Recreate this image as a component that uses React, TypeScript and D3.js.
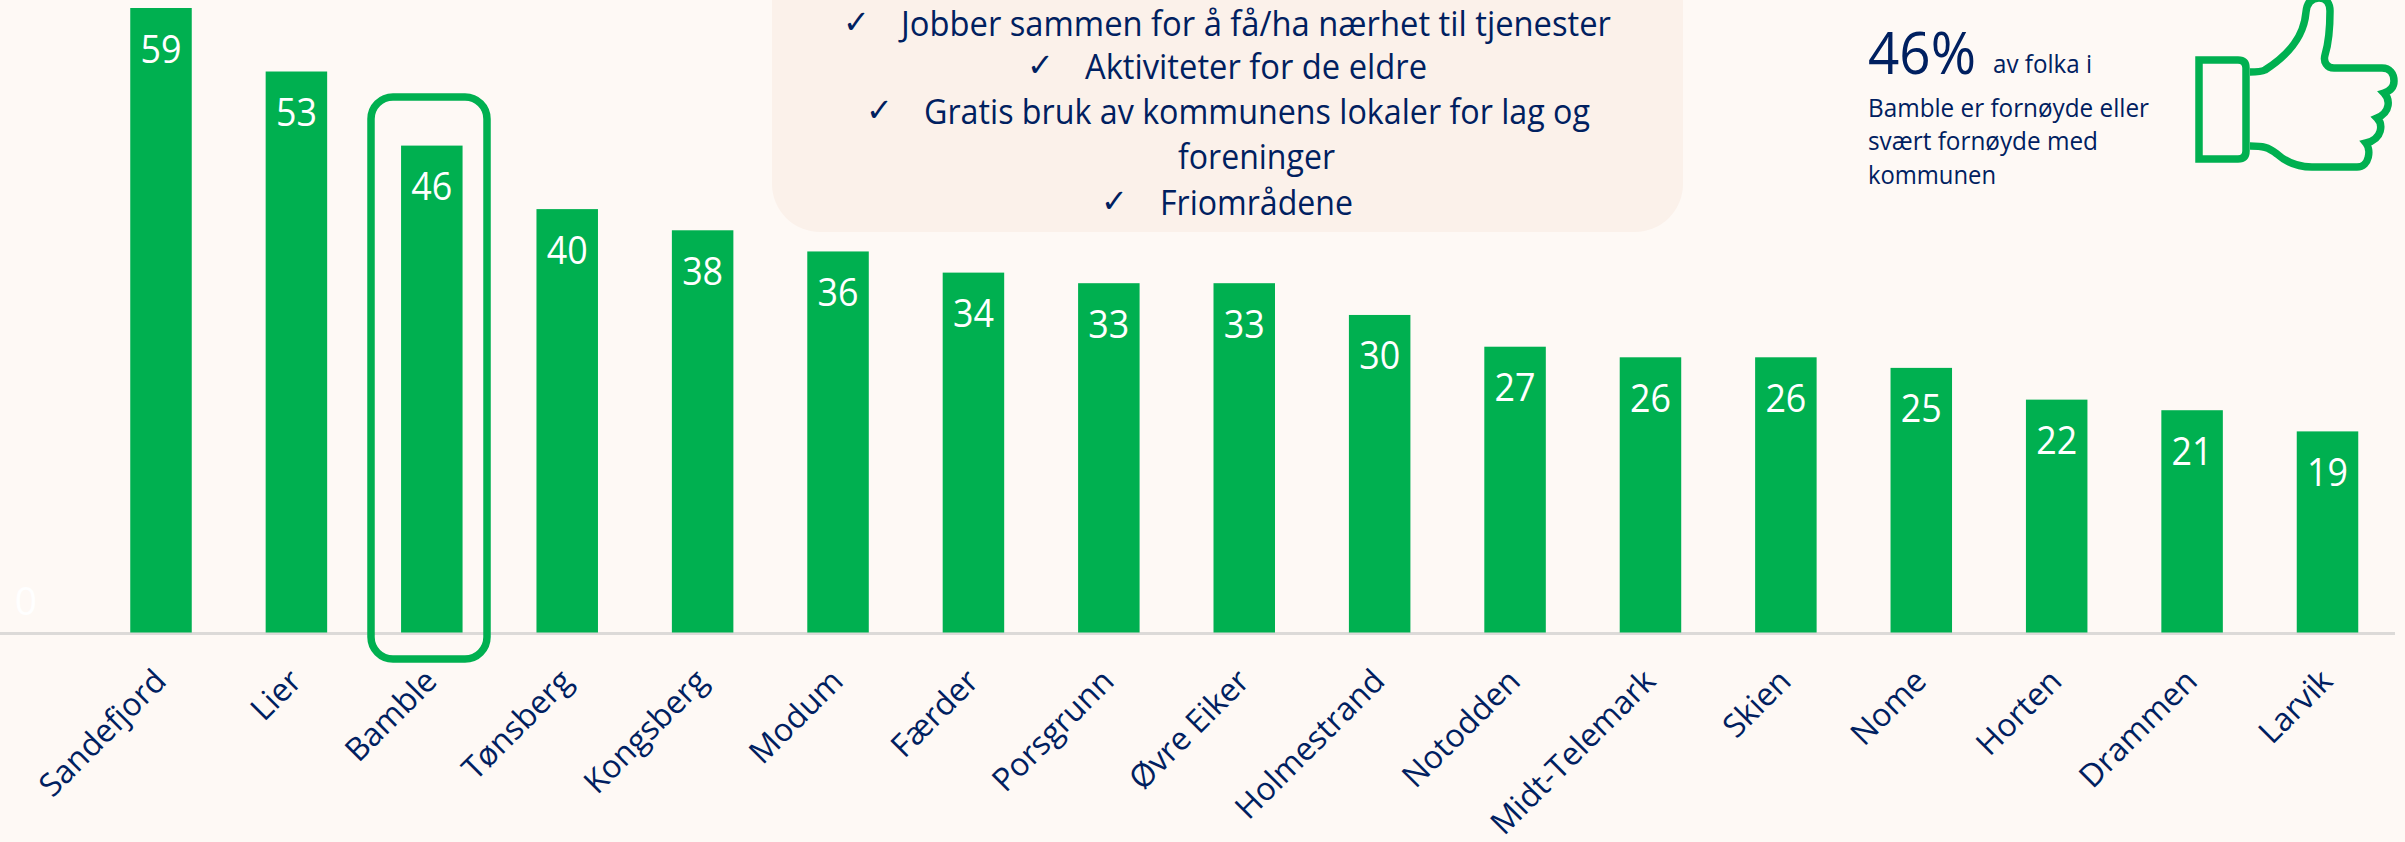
import React, { useEffect, useRef } from "react";
import * as d3 from "d3";

const categories = ["Sandefjord","Lier","Bamble","Tønsberg","Kongsberg","Modum","Færder","Porsgrunn","Øvre Eiker","Holmestrand","Notodden","Midt-Telemark","Skien","Nome","Horten","Drammen","Larvik"];
const values = [59,53,46,40,38,36,34,33,33,30,27,26,26,25,22,21,19];
const calloutLines = ["Jobber sammen for å få/ha nærhet til tjenester","Aktiviteter for de eldre","Gratis bruk av kommunens lokaler for lag og","foreninger","Friområdene"];
const calloutChecks = [true,true,true,false,true];
const calloutBaselines = [36,79,124,169,215];
const calloutStarts = [901,1085,924,1178,1160];
const calloutWidths = [710,342,666,157,193];
const calloutCheckX = [843,1027,866,0,1101];

const GREEN = "#00b050";
const NAVY = "#002060";
const BG = "#fef9f5";
const FONT = "'Open Sans', 'Noto Sans', sans-serif";
const BASE = 632.5;
const BAR_W = 61.5;

const x = d3.scalePoint<string>().domain(categories).range([161, 2327.5]);
const y = d3.scaleLinear().domain([0, 59]).range([BASE, 8]);

const thumb = "M2250,72 C2256,72 2261,72 2265,70 C2290,54 2304,36 2306,12 C2307,2 2312,-2 2319,-2 C2326,-2 2330,3 2330,11 C2330,28 2329,42 2325,55 C2323,62 2327,68 2334,68 L2382,68 C2390,68 2394,74 2394,81 C2394,87 2390,91 2384,93 C2390,99 2391,112 2377,118 C2383,124 2383,139 2366,143 C2371,149 2370,167 2357,167 L2312,167 C2296,167 2286,162 2277,154 C2268,147 2263,146 2250,146";

export default function App() {
  const axisRef = useRef<SVGGElement>(null);
  useEffect(() => {
    const g = d3.select(axisRef.current!);
    g.call(d3.axisBottom(x).tickSize(0) as any);
    g.select(".domain").remove();
    g.selectAll("text")
      .attr("transform", "translate(6.5,50.5) rotate(-45)")
      .attr("x", 0).attr("y", 0).attr("dy", 0)
      .attr("text-anchor", "end")
      .attr("fill", NAVY)
      .style("font-family", FONT)
      .style("font-size", "32px");
  }, []);
  return (
    <svg width={2405} height={842} style={{ position: "absolute", left: 0, top: 0, display: "block" }}>
      <rect width={2405} height={842} fill={BG} />
      <line x1={0} x2={2395} y1={BASE + 1} y2={BASE + 1} stroke="#dcdad8" strokeWidth={3} />
      {categories.map((c, i) => (
        <g key={c}>
          <rect x={x(c)! - BAR_W / 2} y={y(values[i])} width={BAR_W} height={BASE - y(values[i])} fill={GREEN} />
          <text x={x(c)! - 20.5} y={y(values[i]) + 54.5} fill="#fff" fontFamily={FONT} fontSize={39} textLength={41} lengthAdjust="spacingAndGlyphs">{values[i]}</text>
        </g>
      ))}
      <text x={26} y={615} textAnchor="middle" fill="#ffffff" fontFamily={FONT} fontSize={39}>0</text>
      <g ref={axisRef} transform={`translate(0,${BASE})`} />
      <rect x={371} y={97} width={116} height={562} rx={22} fill="none" stroke={GREEN} strokeWidth={7.5} />
      <rect x={772} y={-60} width={911} height={292} rx={48} fill="#fbf1ea" />
      {calloutLines.map((t, i) => (
        <g key={t}>
          {calloutChecks[i] && <text x={calloutCheckX[i]} y={calloutBaselines[i] - 3} fill={NAVY} fontFamily="'DejaVu Sans'" fontSize={32}>✓</text>}
          <text x={calloutStarts[i]} y={calloutBaselines[i]} fill={NAVY} fontFamily={FONT} fontSize={34} textLength={calloutWidths[i]} lengthAdjust="spacingAndGlyphs">{t}</text>
        </g>
      ))}
      <g fill={NAVY} fontFamily={FONT}>
        <text x={1868} y={74} fontSize={59} textLength={108} lengthAdjust="spacingAndGlyphs">46%</text>
        <text x={1993} y={73} fontSize={25} textLength={99} lengthAdjust="spacingAndGlyphs">av folka i</text>
        <text x={1868} y={117} fontSize={25} textLength={281} lengthAdjust="spacingAndGlyphs">Bamble er fornøyde eller</text>
        <text x={1868} y={150} fontSize={25} textLength={230} lengthAdjust="spacingAndGlyphs">svært fornøyde med</text>
        <text x={1868} y={184} fontSize={25} textLength={128} lengthAdjust="spacingAndGlyphs">kommunen</text>
      </g>
      <path d="M2199,60 L2238,60 Q2246,60 2246,68 L2246,151 Q2246,159 2238,159 L2199,159 Z" fill="none" stroke={GREEN} strokeWidth={7.5} />
      <path d={thumb} fill="none" stroke={GREEN} strokeWidth={7.5} />
    </svg>
  );
}
